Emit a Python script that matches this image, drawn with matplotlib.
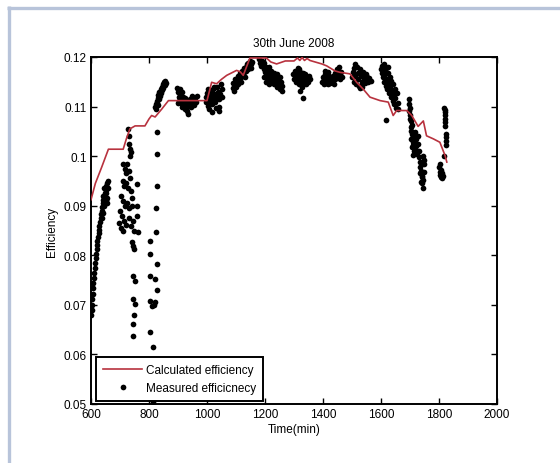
import matplotlib
matplotlib.use("Agg")
import matplotlib.pyplot as plt
from matplotlib.lines import Line2D

plt.rcParams['font.family'] = ['Liberation Sans', 'DejaVu Sans']

# Calculated efficiency (model curve)
calc_time = [600, 615, 637, 660, 711, 722, 734, 752, 786, 800, 809, 821, 844, 867,
             1000, 1016, 1033, 1050, 1068, 1085, 1102, 1115, 1125, 1148, 1205, 1220,
             1240, 1270, 1300, 1312, 1320, 1328, 1336, 1345, 1355, 1396, 1413, 1441,
             1459, 1493, 1516, 1539, 1562, 1597, 1625, 1642, 1654, 1689, 1706, 1728,
             1746, 1757, 1780, 1803, 1821, 1827]
calc_eff = [0.0912, 0.0945, 0.0978, 0.1014, 0.1014, 0.1035, 0.1055, 0.1061, 0.1061,
            0.1075, 0.1082, 0.1079, 0.1095, 0.1112, 0.1112, 0.1149, 0.1146, 0.1155,
            0.1163, 0.1168, 0.1173, 0.1170, 0.1163, 0.1198, 0.1198, 0.1190, 0.1186,
            0.1192, 0.1192, 0.1198, 0.1193, 0.1199, 0.1193, 0.1197, 0.1193, 0.1186,
            0.1182, 0.1172, 0.1169, 0.1166, 0.1149, 0.1135, 0.1119, 0.1112, 0.1109,
            0.1082, 0.1092, 0.1092, 0.1082, 0.1060, 0.1071, 0.1041, 0.1035, 0.1028,
            0.1001, 0.0988]

# Measured efficiency, (time, efficiency) samples grouped by measurement session
morning_rise = [
    (601, 0.0680), (602, 0.0690), (603, 0.0700), (604, 0.0712), (606, 0.0722), (607, 0.0735),
    (608, 0.0745), (610, 0.0755), (611, 0.0765), (613, 0.0775), (614, 0.0785), (616, 0.0795),
    (618, 0.0803), (619, 0.0812), (621, 0.0820), (622, 0.0828), (624, 0.0836), (626, 0.0845),
    (627, 0.0852), (629, 0.0860), (631, 0.0868), (633, 0.0875), (635, 0.0883), (637, 0.0890),
    (639, 0.0897), (641, 0.0905), (643, 0.0912), (640, 0.0920), (645, 0.0918), (648, 0.0925),
    (650, 0.0932), (652, 0.0940), (655, 0.0945), (658, 0.0950), (646, 0.0935), (644, 0.0900),
    (650, 0.0912), (653, 0.0925), (656, 0.0915), (657, 0.0935), (641, 0.0885), (638, 0.0875),
    (647, 0.0905), (654, 0.0905)]
scatter_700 = [
    (728, 0.1055), (732, 0.1040), (730, 0.1025), (735, 0.1015), (733, 0.1000), (738, 0.1008),
    (712, 0.0985), (716, 0.0975), (720, 0.0965), (725, 0.0985), (730, 0.0970), (735, 0.0955),
    (710, 0.0950), (715, 0.0940), (722, 0.0945), (728, 0.0935), (738, 0.0930), (740, 0.0915),
    (705, 0.0920), (712, 0.0910), (718, 0.0900), (725, 0.0905), (732, 0.0895), (740, 0.0900),
    (700, 0.0890), (708, 0.0880), (715, 0.0870), (722, 0.0862), (730, 0.0875), (737, 0.0860),
    (745, 0.0870), (697, 0.0865), (705, 0.0855), (712, 0.0850), (748, 0.0850), (757, 0.0944),
    (757, 0.0900), (757, 0.0880), (763, 0.0846), (742, 0.0826), (750, 0.0813), (746, 0.0819),
    (746, 0.0759), (752, 0.0749), (745, 0.0712), (752, 0.0702), (748, 0.0679), (746, 0.0661),
    (746, 0.0638)]
scatter_800 = [
    (826, 0.1048), (826, 0.1004), (826, 0.0940), (824, 0.0895), (825, 0.0846), (826, 0.0782),
    (821, 0.0752), (826, 0.0729), (822, 0.0705), (818, 0.0700), (804, 0.0828), (803, 0.0803),
    (804, 0.0758), (805, 0.0707), (812, 0.0698), (804, 0.0645), (815, 0.0614), (815, 0.0504)]
cluster_840 = [
    (822, 0.1100), (824, 0.1106), (826, 0.1112), (828, 0.1108), (830, 0.1118), (832, 0.1124),
    (834, 0.1115), (836, 0.1130), (838, 0.1122), (840, 0.1135), (842, 0.1128), (844, 0.1140),
    (846, 0.1133), (848, 0.1145), (850, 0.1138), (852, 0.1150), (854, 0.1143), (856, 0.1152),
    (858, 0.1148), (824, 0.1095), (830, 0.1104)]
cluster_930 = [
    (897, 0.1138), (900, 0.1130), (902, 0.1120), (904, 0.1112), (906, 0.1135), (908, 0.1125),
    (910, 0.1115), (912, 0.1108), (915, 0.1130), (918, 0.1120), (920, 0.1112), (922, 0.1104),
    (925, 0.1118), (928, 0.1110), (930, 0.1100), (932, 0.1092), (934, 0.1085), (936, 0.1105),
    (940, 0.1115), (943, 0.1108), (946, 0.1100), (949, 0.1122), (952, 0.1112), (955, 0.1104),
    (958, 0.1118), (962, 0.1110), (965, 0.1122), (900, 0.1108), (913, 0.1100), (925, 0.1095)]
cluster_1025 = [
    (995, 0.1120), (998, 0.1110), (1000, 0.1128), (1003, 0.1102), (1005, 0.1118), (1008, 0.1095),
    (1010, 0.1130), (1012, 0.1112), (1015, 0.1122), (1018, 0.1105), (1020, 0.1135), (1022, 0.1115),
    (1025, 0.1125), (1028, 0.1110), (1030, 0.1098), (1033, 0.1120), (1035, 0.1140), (1038, 0.1130),
    (1040, 0.1115), (1042, 0.1100), (1045, 0.1125), (1048, 0.1145), (1050, 0.1135), (1053, 0.1120),
    (1005, 0.1135), (1025, 0.1140), (1040, 0.1092), (1017, 0.1090)]
cluster_1120 = [
    (1088, 0.1138), (1090, 0.1148), (1093, 0.1132), (1095, 0.1145), (1098, 0.1155), (1100, 0.1140),
    (1103, 0.1150), (1106, 0.1162), (1108, 0.1145), (1110, 0.1155), (1113, 0.1168), (1116, 0.1160),
    (1118, 0.1150), (1120, 0.1172), (1123, 0.1165), (1126, 0.1178), (1128, 0.1170), (1130, 0.1160),
    (1133, 0.1180), (1136, 0.1172), (1138, 0.1185), (1140, 0.1176), (1143, 0.1188), (1146, 0.1180),
    (1148, 0.1192), (1150, 0.1185), (1153, 0.1178), (1155, 0.1190)]
cluster_1220 = [
    (1180, 0.1195), (1183, 0.1188), (1186, 0.1182), (1189, 0.1192), (1192, 0.1185), (1195, 0.1176),
    (1198, 0.1188), (1200, 0.1170), (1203, 0.1180), (1206, 0.1165), (1208, 0.1175), (1210, 0.1158),
    (1212, 0.1168), (1215, 0.1180), (1217, 0.1160), (1220, 0.1150), (1222, 0.1172), (1225, 0.1162),
    (1228, 0.1152), (1230, 0.1145), (1232, 0.1168), (1235, 0.1158), (1238, 0.1148), (1240, 0.1140),
    (1242, 0.1165), (1245, 0.1155), (1248, 0.1145), (1250, 0.1135), (1253, 0.1160), (1256, 0.1150),
    (1258, 0.1142), (1260, 0.1132), (1196, 0.1160), (1205, 0.1150), (1215, 0.1145)]
cluster_1325 = [
    (1298, 0.1165), (1300, 0.1155), (1303, 0.1172), (1306, 0.1160), (1308, 0.1150), (1310, 0.1168),
    (1313, 0.1178), (1315, 0.1158), (1318, 0.1145), (1320, 0.1170), (1323, 0.1162), (1325, 0.1152),
    (1328, 0.1140), (1330, 0.1168), (1333, 0.1158), (1336, 0.1148), (1338, 0.1165), (1340, 0.1155),
    (1343, 0.1145), (1346, 0.1160), (1349, 0.1150), (1352, 0.1162), (1355, 0.1155), (1322, 0.1132),
    (1332, 0.1117), (1316, 0.1175)]
cluster_1430 = [
    (1396, 0.1150), (1399, 0.1160), (1402, 0.1145), (1405, 0.1155), (1408, 0.1165), (1410, 0.1148),
    (1413, 0.1158), (1416, 0.1145), (1419, 0.1155), (1422, 0.1162), (1425, 0.1148), (1428, 0.1158),
    (1431, 0.1150), (1434, 0.1162), (1437, 0.1145), (1440, 0.1155), (1443, 0.1168), (1446, 0.1158),
    (1449, 0.1175), (1452, 0.1165), (1455, 0.1180), (1458, 0.1155), (1461, 0.1170), (1464, 0.1160),
    (1406, 0.1172), (1418, 0.1170)]
cluster_1530 = [
    (1500, 0.1160), (1503, 0.1170), (1506, 0.1150), (1508, 0.1178), (1511, 0.1162), (1514, 0.1145),
    (1516, 0.1180), (1519, 0.1168), (1522, 0.1155), (1524, 0.1142), (1527, 0.1175), (1530, 0.1162),
    (1533, 0.1150), (1535, 0.1140), (1538, 0.1170), (1541, 0.1158), (1544, 0.1148), (1547, 0.1165),
    (1550, 0.1155), (1553, 0.1160), (1556, 0.1150), (1560, 0.1158), (1564, 0.1152), (1512, 0.1185),
    (1528, 0.1138)]
cluster_1630 = [
    (1600, 0.1175), (1603, 0.1168), (1605, 0.1182), (1608, 0.1160), (1610, 0.1172), (1612, 0.1150),
    (1614, 0.1165), (1616, 0.1142), (1618, 0.1178), (1620, 0.1155), (1622, 0.1135), (1624, 0.1168),
    (1626, 0.1148), (1628, 0.1128), (1630, 0.1160), (1632, 0.1140), (1634, 0.1120), (1636, 0.1152),
    (1638, 0.1132), (1640, 0.1112), (1642, 0.1145), (1644, 0.1125), (1646, 0.1105), (1648, 0.1135),
    (1650, 0.1118), (1652, 0.1098), (1655, 0.1128), (1658, 0.1108), (1660, 0.1095), (1617, 0.1072),
    (1610, 0.1185), (1625, 0.1180)]
cluster_1720 = [
    (1696, 0.1115), (1698, 0.1105), (1697, 0.1092), (1700, 0.1098), (1701, 0.1082), (1699, 0.1075),
    (1703, 0.1070), (1704, 0.1058), (1702, 0.1050), (1706, 0.1062), (1707, 0.1045), (1705, 0.1035),
    (1709, 0.1040), (1710, 0.1028), (1708, 0.1018), (1712, 0.1022), (1713, 0.1010), (1711, 0.1002),
    (1715, 0.1030), (1716, 0.1012), (1718, 0.1048), (1720, 0.1035), (1722, 0.1020), (1724, 0.1005),
    (1726, 0.1040), (1728, 0.1025), (1730, 0.1010), (1732, 0.0998), (1734, 0.0988), (1736, 0.0978),
    (1735, 0.0965), (1738, 0.0970), (1740, 0.0958), (1739, 0.0948), (1742, 0.0960), (1743, 0.0945),
    (1744, 0.0935), (1746, 0.0952), (1748, 0.0968), (1750, 0.0985), (1747, 0.0992), (1745, 0.1000)]
cluster_1810 = [
    (1800, 0.0978), (1802, 0.0968), (1804, 0.0962), (1806, 0.0972), (1808, 0.0958), (1810, 0.0965),
    (1812, 0.0955), (1814, 0.0960), (1803, 0.0985), (1818, 0.1098), (1819, 0.1090), (1820, 0.1082),
    (1821, 0.1075), (1820, 0.1068), (1822, 0.1060), (1823, 0.1045), (1824, 0.1038), (1825, 0.1030),
    (1824, 0.1022), (1818, 0.1000), (1820, 0.1094)]

sessions = [morning_rise, scatter_700, scatter_800, cluster_840, cluster_930, cluster_1025,
            cluster_1120, cluster_1220, cluster_1325, cluster_1430, cluster_1530,
            cluster_1630, cluster_1720, cluster_1810]
meas_time = [t for s in sessions for t, _ in s]
meas_eff = [e for s in sessions for _, e in s]

x_ticks = [600, 800, 1000, 1200, 1400, 1600, 1800, 2000]
y_ticks = [0.05, 0.06, 0.07, 0.08, 0.09, 0.10, 0.11, 0.12]
y_tick_labels = ['0.05', '0.06', '0.07', '0.08', '0.09', '0.1', '0.11', '0.12']

fig = plt.figure(figsize=(5.6, 4.64), dpi=100)
fig.patch.set_facecolor('white')

# light blue panel border along the left and top edges
frame_col = '#b8c4da'
fig.add_artist(Line2D([8.5 / 560, 8.5 / 560], [0, 1 - 7 / 464], transform=fig.transFigure,
                      color=frame_col, lw=2.4, solid_capstyle='butt'))
fig.add_artist(Line2D([7 / 560, 1], [1 - 8.5 / 464, 1 - 8.5 / 464], transform=fig.transFigure,
                      color=frame_col, lw=2.4, solid_capstyle='butt'))

ax = fig.add_axes([91 / 560, 1 - 405 / 464, 406 / 560, 347 / 464])

ax.plot(calc_time, calc_eff, color='#b8323e', lw=1.2, label='Calculated efficiency', zorder=3)
ax.plot(meas_time, meas_eff, linestyle='none', marker='o', markersize=4.1, color='black',
        markeredgewidth=0, label='Measured efficicnecy', zorder=2)

ax.set_xlim(600, 2000)
ax.set_ylim(0.05, 0.12)
ax.set_xticks(x_ticks)
ax.set_yticks(y_ticks)
ax.set_yticklabels(y_tick_labels)
ax.tick_params(direction='in', length=4, width=1.0, top=True, right=True,
               labelsize=8.5, pad=3, colors='black')
for sp in ax.spines.values():
    sp.set_linewidth(1.4)

ax.set_title('30th June 2008', fontsize=8.5, pad=8)
ax.set_xlabel('Time(min)', fontsize=8.5, labelpad=2)
ax.set_ylabel('Efficiency', fontsize=8.5, labelpad=4)

leg = ax.legend(loc='lower left', bbox_to_anchor=(0.013, 0.008), borderaxespad=0,
                fontsize=8.5, fancybox=False, framealpha=1, edgecolor='black',
                numpoints=1, handlelength=3.3, handletextpad=0.3, borderpad=0.6,
                labelspacing=0.55)
leg.get_frame().set_linewidth(1.4)

fig.savefig('out.png', dpi=100, facecolor='white')
